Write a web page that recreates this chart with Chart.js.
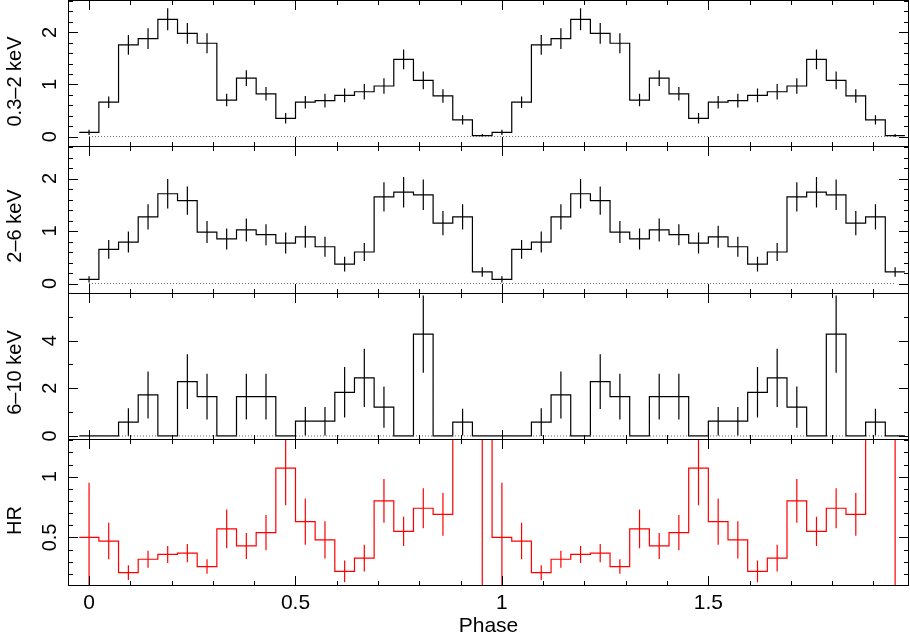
<!DOCTYPE html>
<html>
<head>
<meta charset="utf-8">
<script src="https://cdn.jsdelivr.net/npm/chart.js@4.4.0/dist/chart.umd.min.js"></script>
<style>
  body { margin: 0; background: #fff; }
  #wrap { position: relative; width: 910px; height: 636px; }
  #wrap canvas { position: absolute; left: 0; top: 0; }
</style>
</head>
<body>
<div id="wrap">
  <canvas id="soft" width="910" height="636"></canvas>
  <canvas id="mid" width="910" height="636"></canvas>
  <canvas id="hard" width="910" height="636"></canvas>
  <canvas id="hr" width="910" height="636"></canvas>
</div>
<script>
// folded pulse profile, 21 phase bins per cycle, drawn over two cycles
const binsPerCycle = 21;

// 0.3-2 keV rate and errors
const softRate = [0.08, 0.66, 1.76, 1.88, 2.25, 1.98, 1.79, 0.70, 1.12, 0.82, 0.35,
                  0.66, 0.69, 0.79, 0.86, 0.97, 1.48, 1.08, 0.78, 0.32, 0.02];
const softErr  = [0.05, 0.11, 0.19, 0.20, 0.21, 0.20, 0.19, 0.12, 0.15, 0.13, 0.10,
                  0.12, 0.13, 0.13, 0.15, 0.15, 0.19, 0.17, 0.13, 0.09, 0.03];

// 2-6 keV
const midRate = [0.08, 0.65, 0.79, 1.27, 1.71, 1.58, 0.98, 0.85, 1.02, 0.93, 0.77,
                 0.89, 0.70, 0.37, 0.60, 1.65, 1.74, 1.69, 1.15, 1.27, 0.22];
const midErr  = [0.06, 0.18, 0.20, 0.24, 0.28, 0.27, 0.21, 0.20, 0.22, 0.20, 0.20,
                 0.21, 0.19, 0.14, 0.17, 0.28, 0.29, 0.29, 0.23, 0.24, 0.09];

// 6-10 keV
const hardRate = [0, 0, 0.58, 1.72, 0, 2.28, 1.65, 0, 1.65, 1.65, 0,
                  0.62, 0.62, 1.83, 2.44, 1.21, 0, 4.27, 0, 0.58, 0];
const hardErr  = [0, 0, 0.58, 0.99, 0, 1.15, 0.96, 0, 0.96, 0.96, 0,
                  0.60, 0.60, 1.06, 1.22, 0.87, 0, 1.62, 0, 0.56, 0];

// hardness ratio (last two bins run off the top of the panel)
const hrValue = [0.50, 0.47, 0.21, 0.32, 0.36, 0.37, 0.26, 0.57, 0.43, 0.54, 1.07,
                 0.63, 0.48, 0.22, 0.33, 0.80, 0.55, 0.74, 0.69, 2.00, 2.00];
const hrErr   = [0.45, 0.15, 0.06, 0.07, 0.07, 0.075, 0.06, 0.16, 0.107, 0.145, 0.305,
                 0.19, 0.154, 0.09, 0.11, 0.18, 0.12, 0.165, 0.176, 0.50, 2.60];

const phaseMin = -0.051, phaseMax = 1.986;
const phaseTickStep = 0.1, phaseMajorStep = 0.5;
const phaseLabels = ['0', '0.5', '1', '1.5'];

const FONT = '"Liberation Sans", Arial, Helvetica, sans-serif';

// ticks drawn inside the frame on all four sides, PGPLOT style
const frameTicks = {
  id: 'frameTicks',
  afterDatasetsDraw(chart, args, o) {
    const { ctx, chartArea: a, scales: { x, y } } = chart;
    const isMult = (v, m) => Math.abs(v / m - Math.round(v / m)) < 1e-6;
    ctx.save();
    ctx.strokeStyle = '#000';
    ctx.lineWidth = 1;
    ctx.beginPath();
    for (let v = Math.ceil(phaseMin / phaseTickStep) * phaseTickStep; v <= phaseMax; v += phaseTickStep) {
      const px = Math.round(x.getPixelForValue(v)) + 0.5;
      const len = isMult(v, phaseMajorStep) ? 10 : 5;
      ctx.moveTo(px, a.top); ctx.lineTo(px, a.top + len);
      ctx.moveTo(px, a.bottom); ctx.lineTo(px, a.bottom - len);
    }
    for (let v = Math.ceil(o.min / o.step - 1e-6) * o.step; v < o.max; v += o.step) {
      const py = Math.round(y.getPixelForValue(v)) + 0.5;
      if (py <= a.top + 1 || py >= a.bottom - 1) continue;
      const len = isMult(v, o.major) ? 10 : 5;
      ctx.moveTo(a.left, py); ctx.lineTo(a.left + len, py);
      ctx.moveTo(a.right, py); ctx.lineTo(a.right - len, py);
    }
    ctx.stroke();
    ctx.strokeRect(a.left + 0.5, a.top + 0.5, a.right - a.left - 1, a.bottom - a.top - 1);

    // y tick labels and axis title, rotated
    ctx.fillStyle = '#000';
    ctx.textAlign = 'center';
    ctx.textBaseline = 'middle';
    ctx.font = '20px ' + FONT;
    o.labels.forEach(l => {
      const py = y.getPixelForValue(parseFloat(l));
      ctx.save();
      ctx.translate(o.labelX, py);
      ctx.rotate(-Math.PI / 2);
      ctx.fillText(l, 0, 0);
      ctx.restore();
    });
    ctx.save();
    ctx.translate(15, (a.top + a.bottom) / 2 + o.titleShift);
    ctx.rotate(-Math.PI / 2);
    ctx.fillText(o.title, 0, 0);
    ctx.restore();

    if (o.bottomAxis) {
      ctx.font = '21px ' + FONT;
      phaseLabels.forEach(l => {
        ctx.fillText(l, x.getPixelForValue(parseFloat(l)), 603);
      });
      ctx.fillText('Phase', (a.left + a.right) / 2, 626);
    }
    ctx.restore();
  }
};

function makePanel(id, rate, err, p) {
  const half = 0.5 / binsPerCycle;
  const steps = [], bars = [];
  const allRate = rate.concat(rate), allErr = err.concat(err);
  allRate.forEach((v, i) => {
    const c = i / binsPerCycle;
    steps.push({ x: c - half, y: v }, { x: c + half, y: v });
    if (allErr[i] > 0) {
      bars.push({ x: c, y: v - allErr[i] }, { x: c, y: v + allErr[i] }, { x: c, y: null });
    }
  });
  const datasets = [
    { data: steps, borderColor: p.color, borderWidth: 1.2, pointRadius: 0, tension: 0 },
    { data: bars, borderColor: p.color, borderWidth: 1.2, pointRadius: 0, spanGaps: false }
  ];
  if (p.zeroLine) {
    datasets.unshift({
      data: [{ x: 0, y: 0 }, { x: (allRate.length - 1) / binsPerCycle, y: 0 }],
      borderColor: '#666', borderWidth: 1, borderDash: [1, 2], pointRadius: 0
    });
  }
  new Chart(document.getElementById(id), {
    type: 'line',
    data: { datasets },
    options: {
      responsive: false,
      animation: false,
      events: [],
      layout: { padding: { left: 68, right: 1, top: p.top, bottom: 636 - p.bottom } },
      plugins: {
        legend: { display: false },
        tooltip: { enabled: false },
        frameTicks: p.axis
      },
      scales: {
        x: { type: 'linear', min: phaseMin, max: phaseMax, display: false },
        y: { type: 'linear', min: p.axis.min, max: p.axis.max, display: false }
      }
    },
    plugins: [frameTicks]
  });
}

makePanel('soft', softRate, softErr, {
  color: '#000', zeroLine: true, top: 0, bottom: 147,
  axis: { min: -0.2, max: 2.62, step: 0.2, major: 1, labels: ['0', '1', '2'], labelX: 50, title: '0.3–2 keV', titleShift: 8 }
});
makePanel('mid', midRate, midErr, {
  color: '#000', zeroLine: true, top: 146, bottom: 294,
  axis: { min: -0.2, max: 2.62, step: 0.2, major: 1, labels: ['0', '1', '2'], labelX: 50, title: '2–6 keV', titleShift: 6 }
});
makePanel('hard', hardRate, hardErr, {
  color: '#000', zeroLine: true, top: 293, bottom: 440,
  axis: { min: -0.17, max: 6, step: 1, major: 2, labels: ['0', '2', '4'], labelX: 50, title: '6–10 keV', titleShift: 6 }
});
makePanel('hr', hrValue, hrErr, {
  color: '#ff0000', zeroLine: false, top: 439, bottom: 586,
  axis: { min: 0.1, max: 1.31, step: 0.1, major: 0.5, labels: ['0.5', '1'], labelX: 50, title: 'HR', titleShift: 8, bottomAxis: true }
});
</script>
</body>
</html>
